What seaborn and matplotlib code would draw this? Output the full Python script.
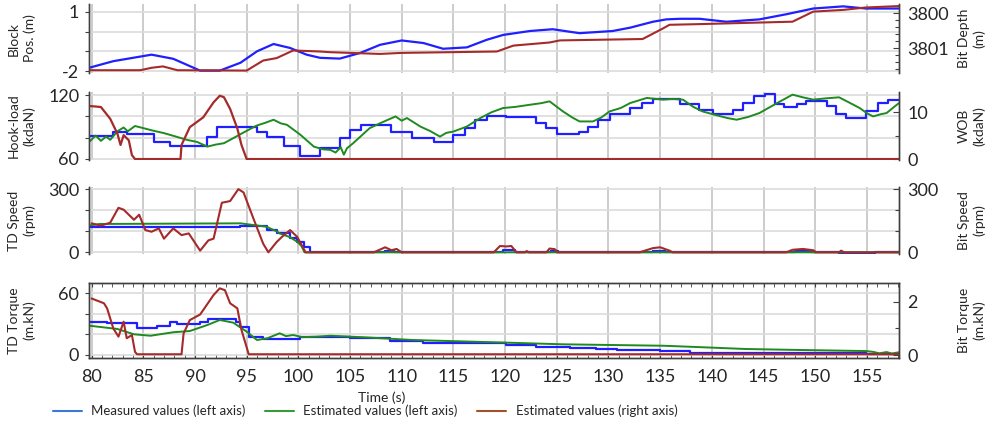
import numpy as np
import pandas as pd
import matplotlib
matplotlib.use('Agg')
import matplotlib.pyplot as plt
from matplotlib.lines import Line2D
from matplotlib.ticker import MultipleLocator
import seaborn as sns

# ---- data (time in s) ----
# panel 1: block position (left) / bit depth (right, inverted)
block_t = [79.8, 82.1, 85.8, 87.9, 90.5, 92.4, 94.4, 96.0, 97.6, 99.2, 100.8, 102.1, 104.0, 106.0,
           107.9, 110.0, 112.1, 114.0, 116.3, 118.2, 119.8, 122.4, 124.6, 127.2, 130.4, 132.1,
           134.3, 135.6, 136.9, 138.8, 141.4, 144.6, 147.2, 149.8, 152.7, 154.9, 158.1]
block_pos = [-1.83, -1.5, -1.17, -1.38, -1.98, -1.98, -1.58, -1.0, -0.63, -0.83, -1.17, -1.33, -1.37,
             -1.08, -0.67, -0.45, -0.58, -0.87, -0.8, -0.42, -0.17, 0.03, 0.12, -0.08, 0.03, 0.2,
             0.5, 0.62, 0.65, 0.65, 0.5, 0.62, 0.88, 1.17, 1.28, 1.17, 1.17]
depth_t = [79.8, 84.7, 85.8, 86.9, 88.3, 95.0, 96.6, 97.9, 99.5, 102.1, 103.1, 107.9, 110.0, 119.2,
           120.8, 124.3, 125.3, 133.3, 135.3, 135.9, 138.8, 147.8, 149.8, 152.7, 154.9, 158.1]
bit_depth = [3801.64, 3801.64, 3801.57, 3801.53, 3801.64, 3801.65, 3801.36, 3801.29, 3801.07, 3801.1,
             3801.12, 3801.17, 3801.14, 3801.1, 3800.93, 3800.84, 3800.78, 3800.74, 3800.43, 3800.33,
             3800.31, 3800.24, 3799.95, 3799.9, 3799.83, 3799.79]

# panel 2: hook-load measured (steps) / estimated (left), WOB estimated (right)
hl_meas_t = [79.8, 82.1, 83.4, 86.0, 87.6, 91.2, 92.1, 96.0, 97.0, 98.6, 100.2, 102.1, 104.0, 105.0,
             106.1, 107.3, 109.0, 111.0, 113.1, 115.0, 116.1, 117.1, 118.2, 120.1, 123.0, 124.0,
             125.0, 127.1, 128.0, 129.0, 130.1, 132.1, 133.2, 134.3, 136.9, 138.8, 140.1, 142.0,
             143.0, 144.1, 145.1, 146.1, 147.0, 148.2, 149.1, 151.1, 152.0, 153.0, 154.9, 156.1,
             157.0, 158.1]
hl_meas = [82.0, 85.8, 83.3, 76.4, 72.3, 81.0, 89.6, 85.8, 81.0, 72.3, 63.1, 70.7, 79.5, 86.8, 91.5,
           92.1, 85.8, 80.1, 76.4, 82.7, 89.0, 96.9, 100.6, 99.4, 93.7, 89.0, 83.3, 85.2, 90.5, 96.9,
           102.2, 107.9, 112.6, 116.4, 111.7, 106.3, 102.2, 106.3, 112.6, 119.5, 121.4, 111.7, 108.5,
           111.7, 114.8, 109.4, 102.2, 98.5, 104.7, 112.6, 115.8, 115.8]
hl_est_t = [79.8, 80.4, 80.9, 81.4, 81.8, 82.5, 83.1, 83.5, 84.2, 85.0, 86.0, 87.0, 88.0, 89.2, 90.2,
            91.2, 92.0, 92.8, 93.6, 94.4, 95.2, 96.0, 96.8, 97.6, 98.3, 98.9, 100.2, 101.5, 102.4,
            103.1, 103.6, 104.1, 104.4, 104.7, 105.3, 106.0, 106.9, 108.0, 109.4, 110.0, 110.5,
            111.8, 112.8, 113.7, 114.3, 115.0, 116.3, 117.6, 118.7, 119.8, 121.0, 122.4, 123.5,
            124.3, 125.6, 126.5, 127.2, 128.5, 129.3, 130.1, 131.2, 132.1, 133.7, 135.3, 136.2,
            137.2, 138.2, 139.1, 140.5, 141.5, 142.4, 143.5, 144.6, 146.2, 147.8, 148.8, 149.8,
            151.0, 152.3, 153.3, 154.3, 155.0, 155.6, 156.3, 156.9, 157.5, 158.1]
hl_est = [76.4, 82.0, 77.0, 81.0, 78.0, 86.0, 89.6, 86.0, 91.0, 89.0, 86.5, 84.3, 81.5, 78.0, 76.0,
          71.6, 73.5, 74.8, 79.0, 83.3, 87.5, 91.5, 94.0, 96.9, 93.5, 92.1, 82.7, 71.6, 69.0, 68.5,
          66.0, 71.0, 64.0, 70.0, 74.8, 81.0, 89.0, 94.0, 100.0, 96.0, 98.5, 90.5, 86.0, 81.0, 84.5,
          85.8, 90.5, 98.5, 104.0, 107.9, 109.0, 111.0, 112.5, 114.2, 104.7, 99.0, 95.3, 95.3, 99.0,
          104.7, 108.0, 112.6, 117.4, 115.8, 116.5, 115.8, 109.0, 104.7, 101.0, 98.5, 96.9, 99.5,
          103.2, 112.0, 120.5, 118.0, 115.8, 117.0, 118.0, 113.0, 107.9, 103.0, 100.0, 102.0,
          103.2, 108.0, 112.6]
wob_t = [79.9, 80.9, 81.8, 82.5, 82.8, 83.1, 83.6, 83.9, 84.2, 88.6, 88.7, 89.5, 90.8, 91.8, 92.4,
         92.8, 93.4, 94.1, 94.5, 95.0, 158.1]
wob_est = [11.3, 11.1, 8.6, 5.4, 3.0, 5.1, 4.0, 0.85, 0.0, 0.0, 3.0, 6.8, 8.9, 12.1, 13.5, 13.2, 10.7,
           6.5, 3.0, 0.0, 0.0]

# panel 3: TD speed measured / estimated (left), bit speed estimated (right)
tds_meas_t = [79.8, 91.2, 94.4, 97.0, 97.9, 99.2, 99.9, 100.5, 101.1, 108.0, 108.4, 109.3, 119.5,
              119.8, 121.0, 124.2, 124.4, 125.1, 134.0, 134.3, 135.5, 147.6, 148.0, 149.5, 152.0,
              152.3, 155.8, 158.1]
tds_meas = [122, 120, 127, 106, 90, 67, 50, 27, 0, 0, 8, 0, 0, 10, 0, 0, 8, 0, 0, 8, 0, 0, 6, 0, 0,
            -3, 0, 0]
tds_est_t = [79.8, 80.8, 94.4, 96.9, 97.9, 98.2, 99.2, 99.9, 100.3, 100.6, 158.1]
tds_est = [128, 135, 138, 122, 100, 90, 72, 50, 30, 0, 0]
bits_t = [80.0, 80.9, 81.8, 82.6, 83.1, 84.1, 84.6, 85.2, 85.8, 86.5, 87.0, 87.9, 88.7, 89.4, 90.5,
          91.3, 91.8, 92.6, 93.4, 94.2, 94.7, 95.7, 96.6, 97.1, 97.9, 98.4, 99.2, 99.9, 100.7,
          107.3, 108.4, 109.0, 109.5, 110.0, 118.9, 119.5, 120.1, 120.6, 121.1, 121.9, 122.1,
          122.3, 124.0, 124.3, 124.8, 125.1, 133.0, 134.3, 135.0, 135.9, 136.2, 147.2, 147.8,
          148.8, 149.8, 150.1, 152.3, 152.5, 152.8, 158.1]
bit_speed = [138, 127, 141, 212, 203, 155, 179, 106, 98, 114, 65, 114, 82, 90, 8, 57, 65, 236, 244,
             301, 285, 155, 41, 0, 49, 73, 106, 73, 0, 0, 24, 10, 16, 0, 0, 30, 28, 30, 0, 0, 6, 0,
             0, 18, 15, 0, 0, 20, 24, 8, 0, 0, 12, 16, 10, 0, 0, 8, 0, 0]

# panel 4: TD torque measured (steps) / estimated (left), bit torque estimated (right)
tdt_meas_t = [79.8, 81.5, 84.4, 86.3, 87.6, 88.3, 90.5, 91.3, 94.0, 94.4, 95.2, 96.6, 100.2, 105.0,
              108.9, 112.1, 114.3, 120.1, 123.0, 126.3, 128.8, 130.8, 135.0, 137.9, 154.9, 158.1]
tdt_meas = [32.2, 30.6, 25.7, 28.2, 32.2, 29.9, 31.6, 34.5, 32.2, 27.3, 17.5, 15.5, 17.5, 15.9, 13.5,
            11.6, 11.0, 9.3, 7.6, 6.7, 5.4, 4.4, 3.0, 1.6, 1.0, 1.0]
tdt_est_t = [79.8, 82.5, 84.1, 85.7, 87.9, 89.5, 91.2, 92.4, 93.7, 95.0, 96.0, 97.0, 98.2, 98.8,
             99.5, 100.4, 101.8, 103.1, 106.3, 111.1, 119.2, 125.6, 135.3, 137.9, 143.3, 148.8,
             154.9, 155.6, 156.2, 156.9, 157.4, 158.1]
tdt_est = [28.2, 25.0, 19.8, 18.4, 21.8, 23.0, 28.9, 33.8, 31.2, 22.4, 14.2, 15.9, 20.8, 18.0, 19.1,
           17.0, 17.5, 18.4, 16.9, 14.2, 11.9, 10.0, 8.6, 7.6, 5.4, 4.4, 3.4, 2.6, 1.2, 2.4, 1.0, 2.2]
bitt_t = [80.0, 81.2, 81.5, 82.1, 82.6, 83.1, 83.4, 83.9, 84.2, 84.4, 88.7, 88.9, 89.5, 90.5, 91.8,
          92.4, 92.9, 93.4, 94.1, 94.5, 95.2, 158.1]
bit_torque = [2.12, 1.94, 1.75, 1.0, 0.69, 1.25, 0.63, 0.75, 0.12, 0.03, 0.03, 0.81, 1.31, 1.52,
              2.25, 2.5, 2.43, 1.94, 1.75, 0.94, 0.03, 0.03]

x_ticks = list(range(80, 160, 5))

BLUE = '#1f1fff'
GREEN = '#1f8a1f'
RED = '#a52a2a'

sns.set_style('white')
plt.rcParams['font.family'] = ['Lato', 'DejaVu Sans']

fig = plt.figure(figsize=(10.01, 4.26), dpi=100)

# axes boxes in pixels (top, bottom)
W, H = 1001, 426
x0, x1 = 89, 899
boxes = [(4, 73), (92, 160), (187, 254), (283, 358)]
axes = []
for top, bot in boxes:
    ax = fig.add_axes([x0 / W, 1 - bot / H, (x1 - x0) / W, (bot - top) / H])
    axes.append(ax)


def style(ax, ax2, left_grid, left_lbls, right_ticks, right_lbls, right_minor, last=False):
    ax.set_xlim(79.75, 158.1)
    ax.set_xticks(x_ticks)
    ax.set_yticks(left_grid)
    ax.set_yticklabels(left_lbls, fontsize=13)
    ax.grid(True, axis='x', color='#c4c4c4', lw=1.2)
    ax.grid(True, axis='y', color='#dcdcdc', lw=1.2)
    ax.set_xlabel('')
    ax.set_ylabel('')
    ax.tick_params(axis='y', which='major', length=3, width=0.8, color='#404040', pad=4, direction='out')
    ax2.set_yticks(right_ticks)
    ax2.set_yticklabels(right_lbls, fontsize=13)
    ax2.yaxis.set_minor_locator(MultipleLocator(right_minor))
    ax2.tick_params(axis='y', which='major', length=4, width=0.8, color='#404040', direction='in', pad=6)
    ax2.tick_params(axis='y', which='minor', length=3, width=0.8, color='#404040', direction='in')
    ax2.set_ylabel('')
    ax2.grid(False)
    for a in (ax, ax2):
        for s in a.spines.values():
            s.set_color('#404040')
            s.set_linewidth(1.0)
        if not last:
            a.spines['top'].set_visible(False)
            a.spines['bottom'].set_visible(False)
    if last:
        ax.set_xticklabels([str(v) for v in x_ticks], fontsize=13)
        ax.xaxis.set_minor_locator(MultipleLocator(1))
        ax.tick_params(axis='x', which='both', top=True, bottom=True, direction='in',
                       length=3, color='#404040', pad=8)
    else:
        ax.set_xticklabels([])
        ax.tick_params(axis='x', length=0)


def draw(ax, t, v, color, steps=False, lw=1.4):
    kw = dict(drawstyle='steps-post') if steps else {}
    sns.lineplot(x=t, y=v, ax=ax, color=color, lw=lw, estimator=None, sort=False, **kw)


# panel 1
ax = axes[0]
ax2 = ax.twinx()
draw(ax, block_t, block_pos, BLUE, lw=1.6)
draw(ax2, depth_t, bit_depth, RED, lw=1.5)
ax.set_ylim(-2.1, 1.4)
ax2.set_ylim(3801.72, 3799.73)
style(ax, ax2, [-2, -1, 0, 1], ['-2', '', '', '1'], [3800, 3801], ['3800', '3801'], 0.2)

# panel 2
ax = axes[1]
ax2 = ax.twinx()
draw(ax, hl_meas_t, hl_meas, BLUE, steps=True, lw=1.6)
draw(ax, hl_est_t, hl_est, GREEN, lw=1.4)
draw(ax2, wob_t, wob_est, RED, lw=1.6)
ax.set_ylim(59, 123)
ax2.set_ylim(-0.2, 14.3)
style(ax, ax2, [60, 80, 100, 120], ['60', '', '', '120'], [0, 10], ['0', '10'], 5)

# panel 3
ax = axes[2]
ax2 = ax.twinx()
draw(ax, tds_meas_t, tds_meas, BLUE, steps=True, lw=1.6)
draw(ax, tds_est_t, tds_est, GREEN, lw=1.4)
draw(ax2, bits_t, bit_speed, RED, lw=1.5)
ax.set_ylim(-8, 311)
ax2.set_ylim(-8, 311)
style(ax, ax2, [0, 100, 200, 300], ['0', '', '', '300'], [0, 300], ['0', '300'], 100)

# panel 4
ax = axes[3]
ax2 = ax.twinx()
draw(ax, tdt_meas_t, tdt_meas, BLUE, steps=True, lw=1.6)
draw(ax, tdt_est_t, tdt_est, GREEN, lw=1.4)
draw(ax2, bitt_t, bit_torque, RED, lw=1.5)
ax.set_ylim(-3.4, 70)
ax2.set_ylim(-0.11, 2.7)
style(ax, ax2, [0, 20, 40, 60], ['0', '', '', '60'], [0, 2], ['0', '2'], 1, last=True)

# side labels
left_lbl = ['Block\nPos. (m)', 'Hook-load\n(kdaN)', 'TD Speed\n(rpm)', 'TD Torque\n(m.kN)']
right_lbl = ['Bit Depth\n(m)', 'WOB\n(kdaN)', 'Bit Speed\n(rpm)', 'Bit Torque\n(m.kN)']
for (top, bot), ll, rl in zip(boxes, left_lbl, right_lbl):
    yc = 1 - (top + bot) / 2 / H
    fig.text(22 / W, yc, ll, rotation=90, ha='center', va='center', fontsize=10, linespacing=1.3)
    fig.text(972 / W, yc, rl, rotation=90, ha='center', va='center', fontsize=10, linespacing=1.3)

fig.text(382 / W, 1 - 398 / H, 'Time (s)', ha='center', va='center', fontsize=10)

handles = [Line2D([], [], color='#3c78d8', lw=1.5),
           Line2D([], [], color='#3a9a3a', lw=1.5),
           Line2D([], [], color='#a0522d', lw=1.5)]
fig.legend(handles, ['Measured values (left axis)', 'Estimated values (left axis)',
                     'Estimated values (right axis)'],
           loc='center', bbox_to_anchor=(365 / W, 1 - 411 / H), ncol=3, frameon=False,
           fontsize=9.5, handlelength=2.2, columnspacing=1.5, handletextpad=0.7)

fig.savefig('out.png', dpi=100)
